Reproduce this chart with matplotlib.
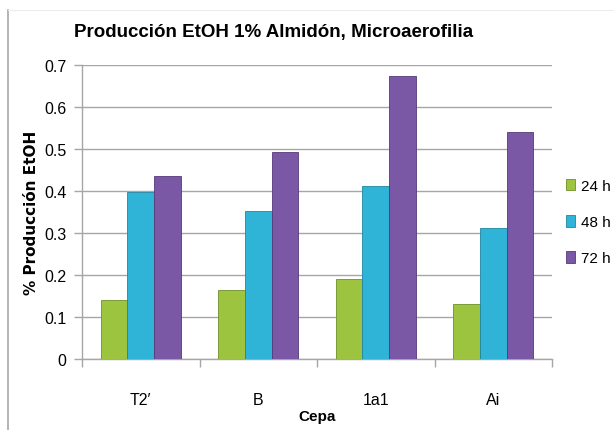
import numpy as np
import matplotlib
matplotlib.use("Agg")
import matplotlib.pyplot as plt
from matplotlib.patches import Patch
from matplotlib.lines import Line2D

plt.rcParams['font.family'] = ['Liberation Sans', 'DejaVu Sans']

cepas = ["T2\u2032", "B", "1a1", "Ai"]
series_names = ["24 h", "48 h", "72 h"]
etoh_24h = [0.141, 0.165, 0.190, 0.130]
etoh_48h = [0.397, 0.353, 0.411, 0.312]
etoh_72h = [0.435, 0.492, 0.672, 0.541]
colors = ["#9cc43e", "#2fb3d6", "#7a58a6"]
edges = ["#6f8f2a", "#1f86a3", "#55397a"]

fig = plt.figure(figsize=(6.14, 4.31), dpi=100)
# chart frame: left edge and faint top edge only
fig.lines.append(Line2D([8/614, 8/614], [0, 1 - 11/431], transform=fig.transFigure,
                        color="#a8a8a8", linewidth=1.2))
fig.lines.append(Line2D([8/614, 1], [1 - 11/431, 1 - 11/431], transform=fig.transFigure,
                        color="#ececec", linewidth=0.8))
ax = fig.add_axes([82/614, 1 - 360/431, 470/614, 294.3/431])

x = np.arange(len(cepas))
w = 0.227
handles = []
for i, vals in enumerate([etoh_24h, etoh_48h, etoh_72h]):
    ax.bar(x + (i - 1) * w, vals, width=w, color=colors[i], edgecolor=edges[i],
           linewidth=0.6, zorder=3)
    handles.append(Patch(facecolor=colors[i], edgecolor=edges[i], linewidth=0.6))

ax.set_ylim(0, 0.7)
ax.set_xlim(-0.5, len(cepas) - 0.5)
ax.set_yticks(np.arange(0, 0.71, 0.1))
ax.set_yticklabels(["0" if v == 0 else f"{v:.1f}" for v in np.arange(0, 0.71, 0.1)])
ax.yaxis.grid(True, color="#a6a6a6", linewidth=1.0, zorder=0)
ax.set_xticks(x)
ax.set_xticklabels(cepas)
ax.set_xticks(np.arange(-0.5, len(cepas)), minor=True)
ax.tick_params(axis="x", which="major", length=0, labelsize=11.5, pad=24)
ax.tick_params(axis="x", which="minor", length=6, color="#a6a6a6", width=1)
ax.tick_params(axis="y", length=6, color="#a6a6a6", width=1, labelsize=11.5, pad=5)
for s in ["top", "right"]:
    ax.spines[s].set_visible(False)
for s in ["left", "bottom"]:
    ax.spines[s].set_color("#a6a6a6")
    ax.spines[s].set_linewidth(1.0)

fig.text(274/614, 1 - 33/431, "Producción EtOH 1% Almidón, Microaerofilia", fontsize=13.5,
         fontweight="bold", ha="center", va="center")
ax.set_ylabel("% Producción EtOH", fontsize=11, fontweight="bold",
              family=["DejaVu Sans"], labelpad=4)
ax.set_xlabel("Cepa", fontsize=11, fontweight="bold", labelpad=1)

fig.legend(handles, series_names, loc="center left", bbox_to_anchor=(558/614, 1 - 223/431),
           frameon=False, fontsize=11, handlelength=0.6, handleheight=0.8,
           handletextpad=0.4, labelspacing=1.45, borderpad=0)

fig.savefig("out.png", dpi=100)
